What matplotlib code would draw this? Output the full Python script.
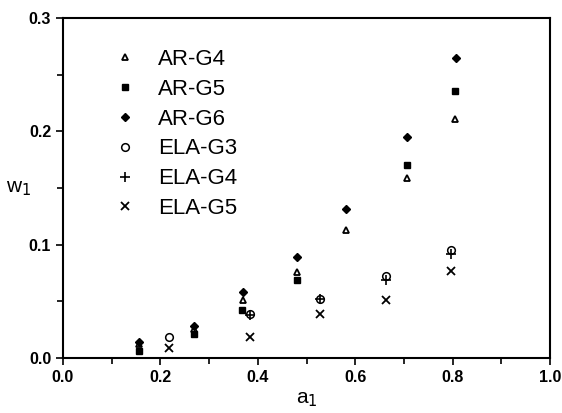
import numpy as np
import matplotlib
matplotlib.use("Agg")
import matplotlib.pyplot as plt

plt.rcParams['font.family'] = ['Liberation Sans', 'DejaVu Sans']

# data
ar_g4_x = [0.157, 0.268, 0.370, 0.480, 0.581, 0.706, 0.804]
ar_g4_y = [0.012, 0.026, 0.051, 0.076, 0.113, 0.159, 0.211]

ar_g5_x = [0.157, 0.268, 0.368, 0.480, 0.706, 0.804]
ar_g5_y = [0.006, 0.021, 0.042, 0.069, 0.170, 0.236]

ar_g6_x = [0.157, 0.268, 0.370, 0.480, 0.581, 0.706, 0.806]
ar_g6_y = [0.014, 0.028, 0.058, 0.089, 0.132, 0.195, 0.265]

ela_g3_x = [0.217, 0.384, 0.528, 0.662, 0.797]
ela_g3_y = [0.019, 0.039, 0.052, 0.072, 0.095]

ela_g4_x = [0.384, 0.528, 0.662, 0.797]
ela_g4_y = [0.038, 0.052, 0.069, 0.092]

ela_g5_x = [0.217, 0.384, 0.528, 0.662, 0.797]
ela_g5_y = [0.0085, 0.019, 0.039, 0.051, 0.077]

x_ticks = ['0.0', '0.2', '0.4', '0.6', '0.8', '1.0']
y_ticks = ['0.0', '0.1', '0.2', '0.3']

fig = plt.figure(figsize=(5.62, 4.13), dpi=100)
ax = fig.add_axes([0.112, 0.133, 0.867, 0.823])

ax.plot(ar_g4_x, ar_g4_y, ls='none', marker='^', ms=5, mfc='white', mec='black', mew=1.3, label='AR-G4')
ax.plot(ar_g5_x, ar_g5_y, ls='none', marker='s', ms=4.6, color='black', label='AR-G5')
ax.plot(ar_g6_x, ar_g6_y, ls='none', marker='D', ms=4, color='black', label='AR-G6')
ax.plot(ela_g3_x, ela_g3_y, ls='none', marker='o', ms=5.5, mfc='white', mec='black', mew=1.1, label='ELA-G3')
ax.plot(ela_g4_x, ela_g4_y, ls='none', marker='+', ms=6.5, color='black', mew=1.2, label='ELA-G4')
ax.plot(ela_g5_x, ela_g5_y, ls='none', marker='x', ms=5.5, color='black', mew=1.3, label='ELA-G5')

ax.set_xlim(0, 1.0)
ax.set_ylim(0, 0.3)
ax.set_xticks([float(t) for t in x_ticks])
ax.set_xticks(np.arange(0.1, 1.0, 0.2), minor=True)
ax.set_yticks([float(t) for t in y_ticks])
ax.set_yticks([0.05, 0.15, 0.25], minor=True)
ax.set_xticklabels(x_ticks, fontweight='bold')
ax.set_yticklabels(y_ticks, fontweight='bold')
ax.tick_params(which='both', direction='out', width=1.2, labelsize=11.5)
ax.tick_params(which='major', length=5)
ax.tick_params(which='minor', length=4)
for s in ax.spines.values():
    s.set_linewidth(1.5)

ax.set_xlabel('a$_1$', fontsize=15, labelpad=4)
ax.set_ylabel('w$_1$', fontsize=15, rotation=0)
ax.yaxis.set_label_coords(-0.09, 0.47)

ax.legend(loc='upper left', bbox_to_anchor=(0.086, 0.936), frameon=False, fontsize=16,
          handlelength=1.0, handletextpad=1.0, labelspacing=0.40, borderaxespad=0)

fig.savefig('out.png', dpi=100)
